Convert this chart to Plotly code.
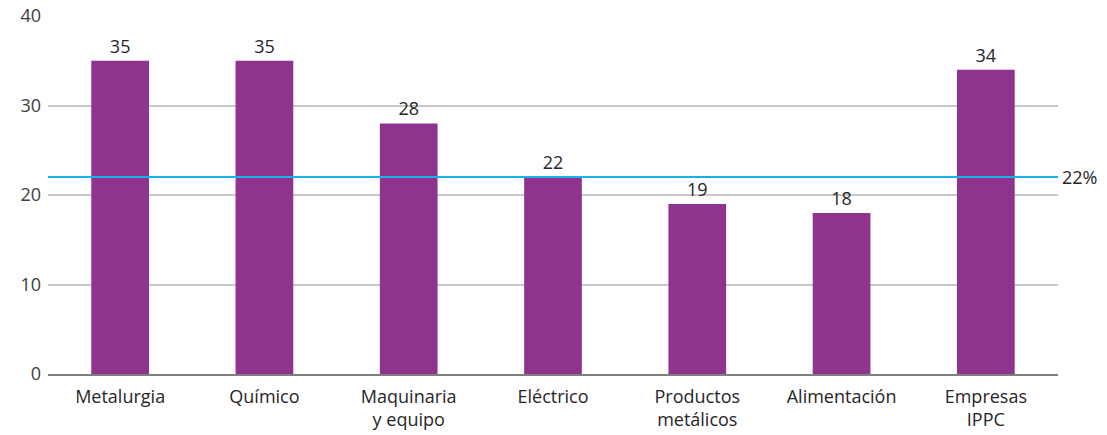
import plotly.graph_objects as go

categories = ["Metalurgia", "Químico", "Maquinaria<br>y equipo", "Eléctrico",
              "Productos<br>metálicos", "Alimentación", "Empresas<br>IPPC"]
values = [35, 35, 28, 22, 19, 18, 34]
average = 22
average_label = "22%"
y_ticks = [0, 10, 20, 30, 40]

FONT = "Open Sans"
SIZE = 18
fig = go.Figure()
fig.add_trace(go.Bar(
    x=categories, y=values,
    marker=dict(color="#8E348F", line=dict(width=0)),
    text=[str(v) for v in values], textposition="outside",
    textfont=dict(family=FONT, size=SIZE, color="#262626"),
    cliponaxis=False, width=0.4,
))
fig.add_shape(type="line", xref="paper", x0=0, x1=1, yref="y", y0=average, y1=average,
              line=dict(color="#1BB0E8", width=2), layer="above")
fig.add_annotation(xref="paper", x=1, yref="y", y=average, text=average_label,
                   showarrow=False, xanchor="left", xshift=2,
                   font=dict(family=FONT, size=SIZE, color="#262626"))
fig.update_layout(
    width=1107, height=435,
    margin=dict(l=48, r=49, t=16, b=61, autoexpand=False),
    plot_bgcolor="white", paper_bgcolor="white",
    showlegend=False,
    font=dict(family=FONT, size=SIZE, color="#262626"),
    xaxis=dict(showgrid=False, showline=True, linecolor="#7F7F7F", linewidth=2,
               tickfont=dict(family=FONT, size=SIZE, color="#262626"), ticks="",
               ticklabelstandoff=5),
    yaxis=dict(range=[0, 40], tickvals=y_ticks, showgrid=True, gridcolor="#C8C8C8",
               gridwidth=1.5, zeroline=False, showline=False,
               tickfont=dict(family=FONT, size=SIZE, color="#404040"), ticklabelstandoff=6),
)
fig.write_html("out.html", config={"displayModeBar": False},
               post_script="document.body.style.margin='0';")
